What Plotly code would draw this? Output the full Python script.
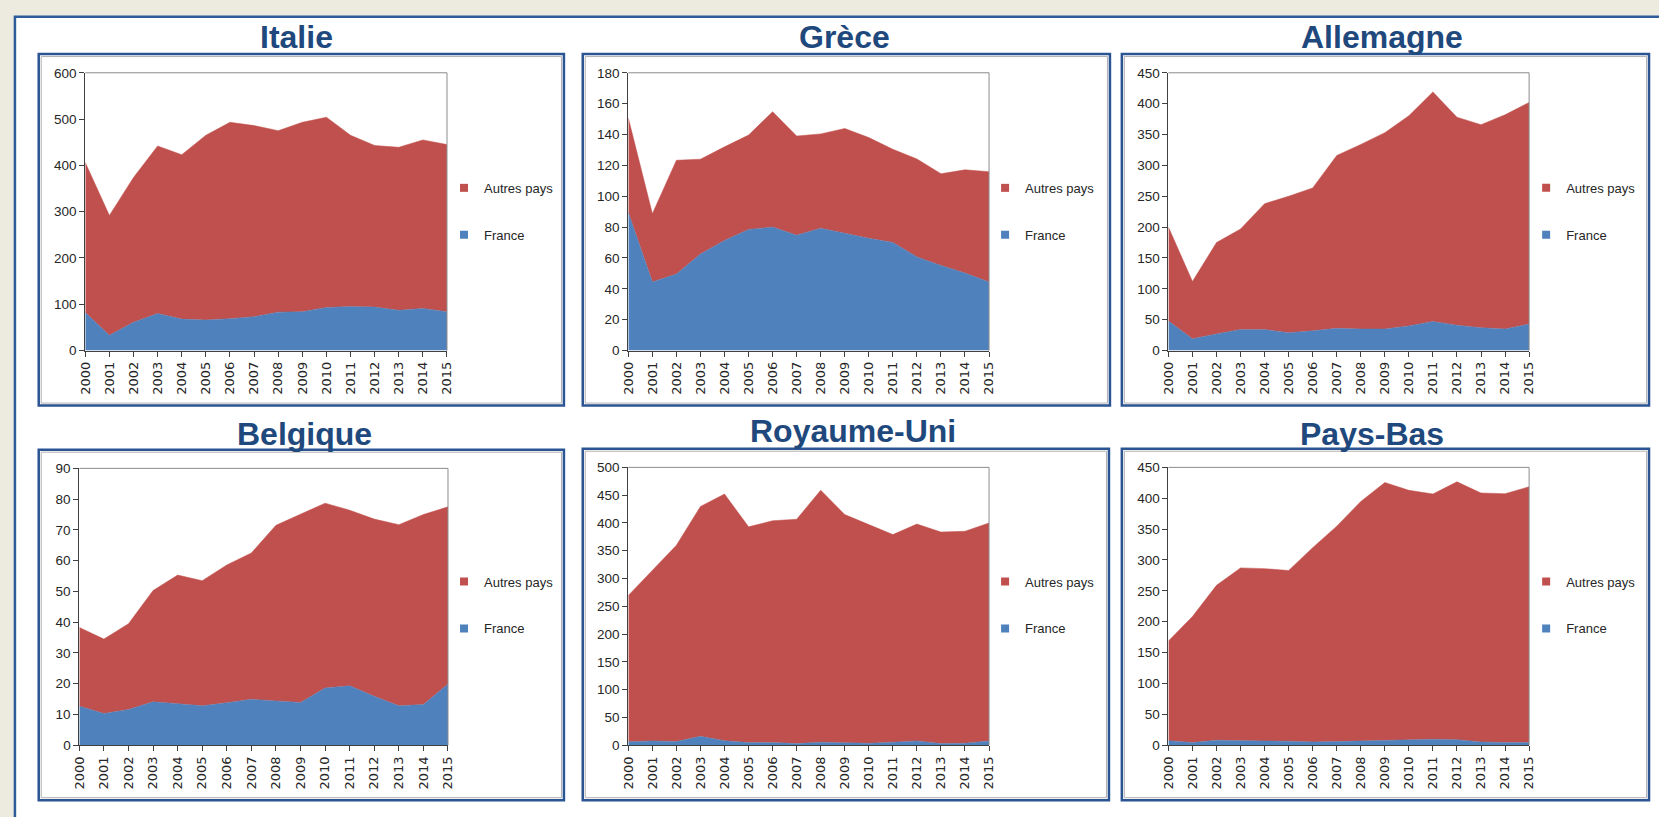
import plotly.graph_objects as go

W, H = 1659, 817

years = list(range(2000, 2016))
year_labels = [str(y) for y in years]

countries = ["Italie", "Grèce", "Allemagne", "Belgique", "Royaume-Uni", "Pays-Bas"]

italie_france = [82, 33, 61, 80, 68, 66, 69, 73, 83, 84, 93, 95, 94, 87, 91, 84]
italie_autres = [324, 259, 313, 362, 355, 399, 424, 413, 392, 409, 411, 370, 349, 352, 364, 361]

grece_france = [89.4, 44.5, 49.6, 62.6, 71.4, 78.5, 80, 74.8, 79.3, 75.9, 72.7, 70.1, 60.7, 55.2, 50.2, 44.5]
grece_autres = [61.3, 44.2, 73.7, 61.4, 60.6, 61.1, 74.8, 64.2, 61.1, 68.0, 65.3, 60.3, 63.5, 59.4, 66.9, 71.4]

allemagne_france = [48, 19, 27, 34, 34, 29, 32, 36, 35, 35, 40, 47, 41, 37, 35, 43]
allemagne_autres = [152, 93, 148, 163, 204, 221, 231.5, 280, 299, 318, 340.5, 372, 337, 329, 347, 359]

belgique_france = [12.7, 10.3, 11.6, 14.1, 13.5, 12.8, 13.8, 14.9, 14.4, 13.9, 18.6, 19.3, 15.9, 12.8, 13.2, 19.9]
belgique_autres = [25.6, 24.2, 27.9, 36.2, 41.8, 40.7, 44.8, 47.6, 57.1, 61.3, 60.1, 57.1, 57.6, 58.9, 61.8, 57.6]

ru_france = [6, 7.7, 6.5, 16, 8, 4.7, 4.7, 3, 5.3, 4.7, 3.5, 5.3, 7.7, 3, 3.5, 7.7]
ru_autres = [263.5, 307.9, 353.5, 413.7, 444, 388.3, 399.3, 403.6, 453.7, 410.3, 393.5, 373.7, 390.3, 380.6, 381.5, 392.3]

pb_france = [7.4, 4.3, 8, 8, 6.9, 6.4, 5.3, 5.9, 6.9, 8.5, 9.6, 9.6, 9, 5.3, 4.3, 4.3]
pb_autres = [161.2, 204.2, 251, 279.2, 279.1, 276.6, 314.7, 348.9, 387.8, 417, 403.2, 397.4, 417.6, 403.2, 403.1, 414.3]

france_series = [italie_france, grece_france, allemagne_france, belgique_france, ru_france, pb_france]
autres_series = [italie_autres, grece_autres, allemagne_autres, belgique_autres, ru_autres, pb_autres]

y_max = [600, 180, 450, 90, 500, 450]
y_step = [100, 20, 50, 10, 50, 50]

RED = "#C0504D"
BLUE = "#4F81BD"
TITLE_COLOR = "#1F497D"
BOX_COLOR = "#2B5493"
TEXT_COLOR = "#262626"
BG = "#EDEAE0"

# layout geometry (pixels, top-left origin)
plot_px = [(78, 443, 67, 350), (626, 990, 67, 350), (1171, 1535, 67, 350),
           (72, 444, 470, 752), (626, 990, 469, 752), (1171, 1535, 469, 752)]
box_px = [(31, 561, 48, 406), (580, 1112, 48, 406), (1124, 1656, 48, 406),
          (31, 561, 451, 808), (580, 1111, 450, 808), (1124, 1656, 450, 808)]
title_px = [(291, 31), (844, 31), (1387, 31), (299, 435), (853, 432), (1376, 435)]
legend_px = [(440, 169), (986, 169), (1532, 169), (440, 570), (986, 570), (1532, 570)]


def fx(px):
    return px / W


def fy(py):
    return 1 - py / H


fig = go.Figure()
layout = dict(
    width=W, height=H,
    margin=dict(l=0, r=0, t=0, b=0),
    paper_bgcolor=BG,
    plot_bgcolor="rgba(0,0,0,0)",
    font=dict(family="Liberation Sans, Arial", color=TEXT_COLOR, size=13),
    showlegend=True,
)

shapes = []
annotations = []

# white slide panel
shapes.append(dict(type="rect", xref="paper", yref="paper",
                   x0=fx(7), x1=1.02, y0=-0.02, y1=fy(10),
                   fillcolor="white", line=dict(color="#2E5C99", width=2.5), layer="below"))

for i, name in enumerate(countries):
    n = "" if i == 0 else str(i + 1)
    xa, ya = "x" + n, "y" + n
    lk = "legend" + n
    x0, x1, y0, y1 = plot_px[i]

    fig.add_trace(go.Scatter(
        x=years, y=france_series[i], name="France", stackgroup="s" + str(i),
        mode="lines", line=dict(width=0.5, color=BLUE), fillcolor=BLUE,
        showlegend=False, xaxis=xa, yaxis=ya, hoverinfo="x+y+name"))
    fig.add_trace(go.Scatter(
        x=years, y=autres_series[i], name="Autres pays", stackgroup="s" + str(i),
        mode="lines", line=dict(width=0.5, color=RED), fillcolor=RED,
        showlegend=False, xaxis=xa, yaxis=ya, hoverinfo="x+y+name"))
    # legend entries
    fig.add_trace(go.Scatter(
        x=[None], y=[None], mode="markers", name="Autres pays",
        marker=dict(symbol="square", size=8, color=RED),
        legend=lk, legendgroup="a" + str(i), xaxis=xa, yaxis=ya))
    fig.add_trace(go.Scatter(
        x=[None], y=[None], mode="markers", name="France",
        marker=dict(symbol="square", size=8, color=BLUE),
        legend=lk, legendgroup="f" + str(i), xaxis=xa, yaxis=ya))

    layout["xaxis" + n] = dict(
        domain=[fx(x0), fx(x1)], anchor=ya, range=[2000, 2015],
        tickmode="array", tickvals=years, ticktext=year_labels, tickangle=-90,
        ticks="outside", ticklen=5, tickcolor="#404040",
        showline=True, linecolor="#404040", linewidth=1,
        showgrid=False, zeroline=False, fixedrange=True,
        tickfont=dict(family="DejaVu Sans", size=13, color=TEXT_COLOR))
    layout["yaxis" + n] = dict(
        domain=[fy(y1), fy(y0)], anchor=xa, range=[0, y_max[i]],
        tickmode="linear", tick0=0, dtick=y_step[i],
        ticks="outside", ticklen=5, tickcolor="#404040",
        showline=True, linecolor="#404040", linewidth=1,
        showgrid=False, zeroline=False, fixedrange=True,
        tickfont=dict(family="Liberation Sans, Arial", size=13.5, color=TEXT_COLOR))

    lx, ly = legend_px[i]
    layout[lk] = dict(
        x=fx(lx), y=fy(ly), xanchor="left", yanchor="top",
        bgcolor="rgba(0,0,0,0)", borderwidth=0,
        traceorder="grouped", tracegroupgap=27, itemwidth=30,
        font=dict(family="Liberation Sans, Arial", size=13, color=TEXT_COLOR))

    # chart box
    bx0, bx1, by0, by1 = box_px[i]
    shapes.append(dict(type="rect", xref="paper", yref="paper",
                       x0=fx(bx0), x1=fx(bx1), y0=fy(by1), y1=fy(by0),
                       fillcolor="white", line=dict(color=BOX_COLOR, width=2.5), layer="below"))
    shapes.append(dict(type="rect", xref="paper", yref="paper",
                       x0=fx(bx0 + 2.5), x1=fx(bx1 - 2.5), y0=fy(by1 - 2.5), y1=fy(by0 + 2.5),
                       fillcolor="rgba(0,0,0,0)", line=dict(color="#B0B0B0", width=1), layer="below"))
    # plot area top/right border
    shapes.append(dict(type="line", xref=xa + " domain", yref=ya + " domain",
                       x0=0, x1=1, y0=1, y1=1, line=dict(color="#8C8C8C", width=1)))
    shapes.append(dict(type="line", xref=xa + " domain", yref=ya + " domain",
                       x0=1, x1=1, y0=0, y1=1, line=dict(color="#8C8C8C", width=1)))

    tx, ty = title_px[i]
    annotations.append(dict(
        text="<b>" + name + "</b>", xref="paper", yref="paper",
        x=fx(tx), y=fy(ty), xanchor="center", yanchor="middle", showarrow=False,
        font=dict(family="Liberation Sans, Arial", size=32, color=TITLE_COLOR)))

layout["shapes"] = shapes
layout["annotations"] = annotations
fig.update_layout(**layout)

fig.write_html(
    "out.html",
    config={"displayModeBar": False},
    post_script="document.body.style.margin='0px';document.body.style.backgroundColor='" + BG + "';",
)
